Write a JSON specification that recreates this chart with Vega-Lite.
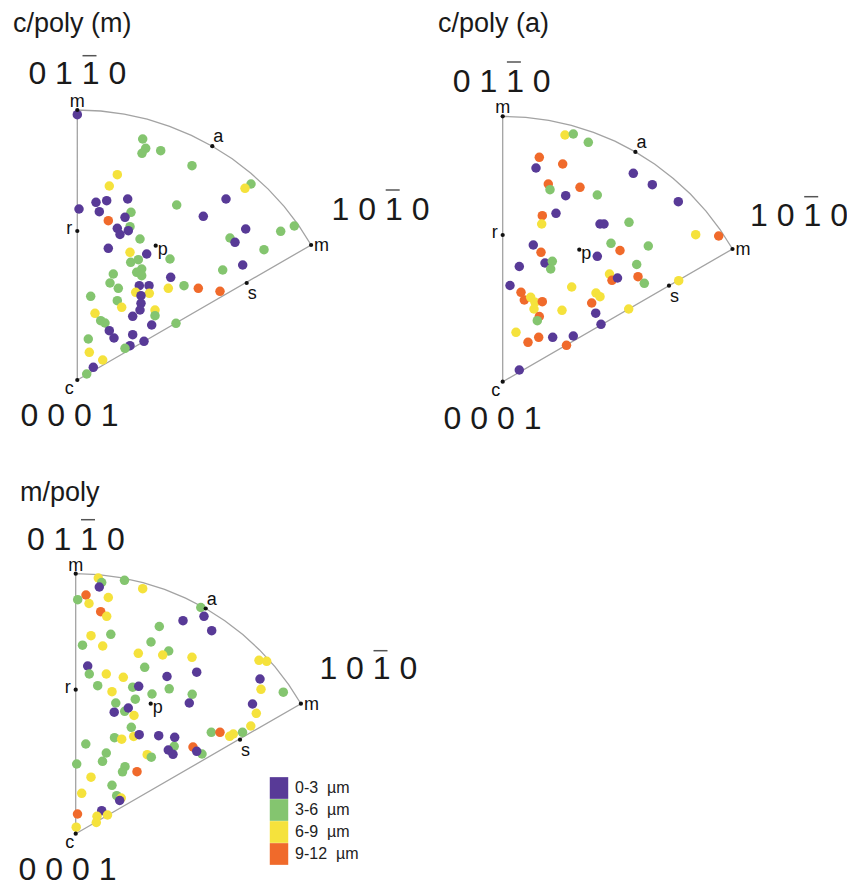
{
"$schema": "https://vega.github.io/schema/vega-lite/v6.json",
"padding": {"left": 0, "top": 10, "right": 0, "bottom": 0},
"spacing": 39.7,
"config": {"view": {"stroke": null}},
"datasets": {
"outline": [
{"panel":"p1","k":0,"u":0,"v":0},{"panel":"p1","k":1,"u":0,"v":270},{"panel":"p1","k":2,"u":23.5,"v":269.0},{"panel":"p1","k":3,"u":46.9,"v":265.9},{"panel":"p1","k":4,"u":69.9,"v":260.8},{"panel":"p1","k":5,"u":92.3,"v":253.7},{"panel":"p1","k":6,"u":114.1,"v":244.7},{"panel":"p1","k":7,"u":135,"v":233.8},{"panel":"p1","k":8,"u":154.9,"v":221.2},{"panel":"p1","k":9,"u":173.6,"v":206.8},{"panel":"p1","k":10,"u":190.9,"v":190.9},{"panel":"p1","k":11,"u":206.8,"v":173.6},{"panel":"p1","k":12,"u":221.2,"v":154.9},{"panel":"p1","k":13,"u":233.8,"v":135},{"panel":"p1","k":14,"u":0,"v":0},
{"panel":"p2","k":0,"u":0,"v":0},{"panel":"p2","k":1,"u":0,"v":265.4},{"panel":"p2","k":2,"u":23.1,"v":264.4},{"panel":"p2","k":3,"u":46.1,"v":261.4},{"panel":"p2","k":4,"u":68.7,"v":256.4},{"panel":"p2","k":5,"u":90.8,"v":249.4},{"panel":"p2","k":6,"u":112.2,"v":240.5},{"panel":"p2","k":7,"u":132.7,"v":229.8},{"panel":"p2","k":8,"u":152.2,"v":217.4},{"panel":"p2","k":9,"u":170.6,"v":203.3},{"panel":"p2","k":10,"u":187.7,"v":187.7},{"panel":"p2","k":11,"u":203.3,"v":170.6},{"panel":"p2","k":12,"u":217.4,"v":152.2},{"panel":"p2","k":13,"u":229.8,"v":132.7},{"panel":"p2","k":14,"u":0,"v":0},
{"panel":"p3","k":0,"u":0,"v":0},{"panel":"p3","k":1,"u":0,"v":260},{"panel":"p3","k":2,"u":22.7,"v":259.0},{"panel":"p3","k":3,"u":45.1,"v":256.0},{"panel":"p3","k":4,"u":67.3,"v":251.1},{"panel":"p3","k":5,"u":88.9,"v":244.3},{"panel":"p3","k":6,"u":109.9,"v":235.6},{"panel":"p3","k":7,"u":130,"v":225.2},{"panel":"p3","k":8,"u":149.1,"v":213.0},{"panel":"p3","k":9,"u":167.1,"v":199.2},{"panel":"p3","k":10,"u":183.8,"v":183.8},{"panel":"p3","k":11,"u":199.2,"v":167.1},{"panel":"p3","k":12,"u":213.0,"v":149.1},{"panel":"p3","k":13,"u":225.2,"v":130},{"panel":"p3","k":14,"u":0,"v":0}
],
"landmarks": [
{"panel":"p1","name":"mt","label":"m","u":0,"v":270},{"panel":"p1","name":"a","label":"a","u":135,"v":233.8},{"panel":"p1","name":"mr","label":"m","u":233.8,"v":135},{"panel":"p1","name":"r","label":"r","u":0,"v":149},{"panel":"p1","name":"p","label":"p","u":78.4,"v":134.3},{"panel":"p1","name":"s","label":"s","u":169.4,"v":97},{"panel":"p1","name":"c","label":"c","u":0,"v":0},
{"panel":"p2","name":"mt","label":"m","u":0,"v":265.4},{"panel":"p2","name":"a","label":"a","u":132.7,"v":229.8},{"panel":"p2","name":"mr","label":"m","u":229.8,"v":132.7},{"panel":"p2","name":"r","label":"r","u":0,"v":146.7},{"panel":"p2","name":"p","label":"p","u":76.6,"v":132},{"panel":"p2","name":"s","label":"s","u":166.3,"v":96},{"panel":"p2","name":"c","label":"c","u":0,"v":0},
{"panel":"p3","name":"mt","label":"m","u":0,"v":260},{"panel":"p3","name":"a","label":"a","u":130,"v":225.2},{"panel":"p3","name":"mr","label":"m","u":225.2,"v":130},{"panel":"p3","name":"r","label":"r","u":0,"v":144},{"panel":"p3","name":"p","label":"p","u":75,"v":130},{"panel":"p3","name":"s","label":"s","u":164.3,"v":94},{"panel":"p3","name":"c","label":"c","u":0,"v":0}
],
"hkl": [
{"panel":"p1","text":"0 1 1 0","u":0,"v":296},{"panel":"p1","text":"1 0 1 0","u":303.2,"v":160},{"panel":"p1","text":"0 0 0 1","u":-7.8,"v":-46},
{"panel":"p2","text":"0 1 1 0","u":-1,"v":289.4},{"panel":"p2","text":"1 0 1 0","u":296.3,"v":156},{"panel":"p2","text":"0 0 0 1","u":-10.2,"v":-47.3},
{"panel":"p3","text":"0 1 1 0","u":0.1,"v":284},{"panel":"p3","text":"1 0 1 0","u":292.6,"v":154.7},{"panel":"p3","text":"0 0 0 1","u":-8.2,"v":-46.3}
],
"bars": [
{"panel":"p1","u":5.2,"u2":19.2,"v":324.3},{"panel":"p1","u":308.4,"u2":322.4,"v":190},
{"panel":"p2","u":4.2,"u2":18.2,"v":319.7},{"panel":"p2","u":301.5,"u2":315.5,"v":185},
{"panel":"p3","u":5.3,"u2":19.3,"v":314},{"panel":"p3","u":297.8,"u2":311.8,"v":183}
],
"points": [
{"panel":"p1","u":0,"v":265.3,"grain":"0-3"},{"panel":"p1","u":65.4,"v":241,"grain":"3-6"},{"panel":"p1","u":68.4,"v":231.7,"grain":"3-6"},{"panel":"p1","u":64.7,"v":226.7,"grain":"3-6"},{"panel":"p1","u":83.4,"v":229.3,"grain":"3-6"},{"panel":"p1","u":114.7,"v":214.3,"grain":"3-6"},{"panel":"p1","u":40,"v":205.3,"grain":"6-9"},{"panel":"p1","u":32,"v":194,"grain":"6-9"},{"panel":"p1","u":173.7,"v":196,"grain":"3-6"},{"panel":"p1","u":167.7,"v":191.7,"grain":"6-9"},
{"panel":"p1","u":1.7,"v":171,"grain":"0-3"},{"panel":"p1","u":18.7,"v":177.7,"grain":"0-3"},{"panel":"p1","u":29.4,"v":179.3,"grain":"0-3"},{"panel":"p1","u":50.4,"v":181,"grain":"0-3"},{"panel":"p1","u":22,"v":168.3,"grain":"0-3"},{"panel":"p1","u":53.7,"v":167.7,"grain":"3-6"},{"panel":"p1","u":47.7,"v":162.7,"grain":"0-3"},{"panel":"p1","u":31,"v":159.3,"grain":"9-12"},{"panel":"p1","u":99.4,"v":175,"grain":"3-6"},{"panel":"p1","u":148.7,"v":181,"grain":"0-3"},
{"panel":"p1","u":126,"v":163.7,"grain":"0-3"},{"panel":"p1","u":168.4,"v":151,"grain":"0-3"},{"panel":"p1","u":203.4,"v":148.7,"grain":"3-6"},{"panel":"p1","u":217,"v":154,"grain":"3-6"},{"panel":"p1","u":40,"v":151.7,"grain":"0-3"},{"panel":"p1","u":52.7,"v":153.3,"grain":"3-6"},{"panel":"p1","u":51,"v":149.3,"grain":"0-3"},{"panel":"p1","u":42.7,"v":145.5,"grain":"0-3"},{"panel":"p1","u":62.7,"v":141,"grain":"3-6"},{"panel":"p1","u":152.7,"v":142,"grain":"3-6"},
{"panel":"p1","u":157.7,"v":137.7,"grain":"0-3"},{"panel":"p1","u":186.7,"v":130.3,"grain":"3-6"},{"panel":"p1","u":165.4,"v":115,"grain":"0-3"},{"panel":"p1","u":145.4,"v":110,"grain":"3-6"},{"panel":"p1","u":31,"v":131.7,"grain":"0-3"},{"panel":"p1","u":52.7,"v":127.7,"grain":"6-9"},{"panel":"p1","u":69.4,"v":126,"grain":"0-3"},{"panel":"p1","u":92.7,"v":121,"grain":"3-6"},{"panel":"p1","u":61,"v":120.3,"grain":"3-6"},{"panel":"p1","u":53.4,"v":117.7,"grain":"3-6"},
{"panel":"p1","u":64.4,"v":111,"grain":"3-6"},{"panel":"p1","u":59.4,"v":107.7,"grain":"3-6"},{"panel":"p1","u":64.4,"v":104.3,"grain":"3-6"},{"panel":"p1","u":36,"v":106,"grain":"3-6"},{"panel":"p1","u":32.7,"v":97,"grain":"3-6"},{"panel":"p1","u":41,"v":91.7,"grain":"3-6"},{"panel":"p1","u":93.4,"v":102.7,"grain":"0-3"},{"panel":"p1","u":62,"v":94.3,"grain":"0-3"},{"panel":"p1","u":71.7,"v":94.3,"grain":"0-3"},{"panel":"p1","u":91,"v":91.7,"grain":"6-9"},
{"panel":"p1","u":106.7,"v":94.3,"grain":"3-6"},{"panel":"p1","u":121,"v":91.7,"grain":"9-12"},{"panel":"p1","u":142.7,"v":88.7,"grain":"9-12"},{"panel":"p1","u":58.4,"v":87.7,"grain":"6-9"},{"panel":"p1","u":72,"v":86.7,"grain":"6-9"},{"panel":"p1","u":63.7,"v":84.3,"grain":"0-3"},{"panel":"p1","u":63.7,"v":76.7,"grain":"0-3"},{"panel":"p1","u":62.7,"v":70,"grain":"0-3"},{"panel":"p1","u":13.4,"v":83.7,"grain":"3-6"},{"panel":"p1","u":40,"v":79.3,"grain":"3-6"},
{"panel":"p1","u":44.4,"v":72.7,"grain":"6-9"},{"panel":"p1","u":77.7,"v":70,"grain":"6-9"},{"panel":"p1","u":77.7,"v":64.3,"grain":"3-6"},{"panel":"p1","u":55.4,"v":63.7,"grain":"0-3"},{"panel":"p1","u":17.7,"v":66.7,"grain":"6-9"},{"panel":"p1","u":23.4,"v":59.3,"grain":"3-6"},{"panel":"p1","u":27.7,"v":57,"grain":"3-6"},{"panel":"p1","u":74.4,"v":55,"grain":"0-3"},{"panel":"p1","u":98.7,"v":56.7,"grain":"3-6"},{"panel":"p1","u":32,"v":49.3,"grain":"0-3"},
{"panel":"p1","u":36.7,"v":42,"grain":"0-3"},{"panel":"p1","u":55.4,"v":45.3,"grain":"0-3"},{"panel":"p1","u":11,"v":41,"grain":"3-6"},{"panel":"p1","u":66.7,"v":38.7,"grain":"0-3"},{"panel":"p1","u":52.7,"v":34.3,"grain":"0-3"},{"panel":"p1","u":47.7,"v":31.7,"grain":"3-6"},{"panel":"p1","u":12,"v":27.7,"grain":"6-9"},{"panel":"p1","u":25.4,"v":20,"grain":"6-9"},{"panel":"p1","u":16,"v":12.7,"grain":"0-3"},{"panel":"p1","u":9.4,"v":6,"grain":"3-6"},
{"panel":"p2","u":62.3,"v":246.7,"grain":"6-9"},{"panel":"p2","u":70.6,"v":247.7,"grain":"3-6"},{"panel":"p2","u":85.6,"v":239.4,"grain":"3-6"},{"panel":"p2","u":36.6,"v":224.4,"grain":"9-12"},{"panel":"p2","u":33.3,"v":213.7,"grain":"0-3"},{"panel":"p2","u":60,"v":217.7,"grain":"9-12"},{"panel":"p2","u":130.6,"v":208.4,"grain":"0-3"},{"panel":"p2","u":149.6,"v":197,"grain":"0-3"},{"panel":"p2","u":45.6,"v":197.7,"grain":"9-12"},{"panel":"p2","u":47.3,"v":192,"grain":"3-6"},
{"panel":"p2","u":77.3,"v":194.4,"grain":"9-12"},{"panel":"p2","u":63,"v":186,"grain":"0-3"},{"panel":"p2","u":94.6,"v":186.7,"grain":"3-6"},{"panel":"p2","u":175.6,"v":180,"grain":"0-3"},{"panel":"p2","u":53.3,"v":168.4,"grain":"0-3"},{"panel":"p2","u":39.6,"v":166,"grain":"9-12"},{"panel":"p2","u":39,"v":157.7,"grain":"6-9"},{"panel":"p2","u":97.3,"v":157.7,"grain":"0-3"},{"panel":"p2","u":101.3,"v":157.7,"grain":"0-3"},{"panel":"p2","u":126.3,"v":159.4,"grain":"3-6"},
{"panel":"p2","u":193,"v":147,"grain":"6-9"},{"panel":"p2","u":216,"v":145.7,"grain":"9-12"},{"panel":"p2","u":30.6,"v":136.7,"grain":"0-3"},{"panel":"p2","u":108.3,"v":138.4,"grain":"3-6"},{"panel":"p2","u":145.6,"v":135.7,"grain":"3-6"},{"panel":"p2","u":117.3,"v":131.2,"grain":"9-12"},{"panel":"p2","u":38.3,"v":129.4,"grain":"9-12"},{"panel":"p2","u":94.6,"v":125.4,"grain":"0-3"},{"panel":"p2","u":16.6,"v":115.2,"grain":"0-3"},{"panel":"p2","u":42.3,"v":118.7,"grain":"0-3"},
{"panel":"p2","u":49.6,"v":120.4,"grain":"3-6"},{"panel":"p2","u":48,"v":112.7,"grain":"3-6"},{"panel":"p2","u":134,"v":117.2,"grain":"3-6"},{"panel":"p2","u":106.8,"v":107.7,"grain":"6-9"},{"panel":"p2","u":109.3,"v":101.4,"grain":"9-12"},{"panel":"p2","u":114.8,"v":103.7,"grain":"0-3"},{"panel":"p2","u":135.3,"v":105,"grain":"9-12"},{"panel":"p2","u":141.6,"v":98.4,"grain":"3-6"},{"panel":"p2","u":7.3,"v":96.2,"grain":"0-3"},{"panel":"p2","u":69,"v":94.7,"grain":"6-9"},
{"panel":"p2","u":18.3,"v":89.4,"grain":"9-12"},{"panel":"p2","u":21.6,"v":81.7,"grain":"9-12"},{"panel":"p2","u":28,"v":84.4,"grain":"6-9"},{"panel":"p2","u":32.3,"v":79.4,"grain":"6-9"},{"panel":"p2","u":39.6,"v":80,"grain":"9-12"},{"panel":"p2","u":31.3,"v":72.7,"grain":"6-9"},{"panel":"p2","u":93.3,"v":88.7,"grain":"6-9"},{"panel":"p2","u":97.3,"v":85,"grain":"6-9"},{"panel":"p2","u":89,"v":78.7,"grain":"9-12"},{"panel":"p2","u":59.3,"v":71.4,"grain":"6-9"},
{"panel":"p2","u":126,"v":72.7,"grain":"6-9"},{"panel":"p2","u":176,"v":101,"grain":"6-9"},{"panel":"p2","u":36.6,"v":65.2,"grain":"9-12"},{"panel":"p2","u":34.6,"v":61,"grain":"3-6"},{"panel":"p2","u":93,"v":68.5,"grain":"0-3"},{"panel":"p2","u":98.3,"v":57.4,"grain":"0-3"},{"panel":"p2","u":13.3,"v":49.4,"grain":"6-9"},{"panel":"p2","u":25.3,"v":39.4,"grain":"9-12"},{"panel":"p2","u":36,"v":44.4,"grain":"9-12"},{"panel":"p2","u":50,"v":44.4,"grain":"0-3"},
{"panel":"p2","u":70.6,"v":45.7,"grain":"0-3"},{"panel":"p2","u":63.8,"v":36.4,"grain":"9-12"},{"panel":"p2","u":16.6,"v":11.7,"grain":"0-3"},
{"panel":"p3","u":22.6,"v":255.7,"grain":"6-9"},{"panel":"p3","u":26,"v":251.2,"grain":"3-6"},{"panel":"p3","u":23.6,"v":246.7,"grain":"0-3"},{"panel":"p3","u":48.8,"v":253.4,"grain":"3-6"},{"panel":"p3","u":67,"v":245,"grain":"6-9"},{"panel":"p3","u":10.3,"v":238.7,"grain":"9-12"},{"panel":"p3","u":2,"v":234,"grain":"3-6"},{"panel":"p3","u":13.3,"v":230.2,"grain":"6-9"},{"panel":"p3","u":32.6,"v":236.2,"grain":"6-9"},{"panel":"p3","u":25,"v":222,"grain":"9-12"},
{"panel":"p3","u":31,"v":217.4,"grain":"6-9"},{"panel":"p3","u":125.1,"v":226.2,"grain":"3-6"},{"panel":"p3","u":128.3,"v":217.4,"grain":"0-3"},{"panel":"p3","u":107.3,"v":213,"grain":"0-3"},{"panel":"p3","u":136,"v":203,"grain":"0-3"},{"panel":"p3","u":83.6,"v":207.2,"grain":"3-6"},{"panel":"p3","u":15.3,"v":198,"grain":"6-9"},{"panel":"p3","u":35.1,"v":199.4,"grain":"3-6"},{"panel":"p3","u":6.8,"v":188.5,"grain":"3-6"},{"panel":"p3","u":27,"v":187.7,"grain":"6-9"},
{"panel":"p3","u":75.3,"v":191.7,"grain":"3-6"},{"panel":"p3","u":93,"v":182.7,"grain":"3-6"},{"panel":"p3","u":62.6,"v":180.4,"grain":"6-9"},{"panel":"p3","u":87,"v":178.7,"grain":"6-9"},{"panel":"p3","u":116.3,"v":176.4,"grain":"6-9"},{"panel":"p3","u":183.3,"v":173.4,"grain":"6-9"},{"panel":"p3","u":191,"v":172.4,"grain":"6-9"},{"panel":"p3","u":12,"v":167.7,"grain":"0-3"},{"panel":"p3","u":69,"v":166.4,"grain":"3-6"},{"panel":"p3","u":13.6,"v":159.7,"grain":"3-6"},
{"panel":"p3","u":30.6,"v":159.7,"grain":"6-9"},{"panel":"p3","u":47.6,"v":156.4,"grain":"6-9"},{"panel":"p3","u":91.3,"v":157.2,"grain":"0-3"},{"panel":"p3","u":121,"v":161.5,"grain":"0-3"},{"panel":"p3","u":184.3,"v":154.7,"grain":"0-3"},{"panel":"p3","u":22,"v":148,"grain":"3-6"},{"panel":"p3","u":57,"v":146.5,"grain":"3-6"},{"panel":"p3","u":63,"v":147.4,"grain":"0-3"},{"panel":"p3","u":76.3,"v":139.7,"grain":"3-6"},{"panel":"p3","u":93.5,"v":144.9,"grain":"3-6"},
{"panel":"p3","u":36.3,"v":142,"grain":"6-9"},{"panel":"p3","u":116.5,"v":139.4,"grain":"3-6"},{"panel":"p3","u":185.3,"v":144.4,"grain":"6-9"},{"panel":"p3","u":207.6,"v":141.5,"grain":"3-6"},{"panel":"p3","u":40.1,"v":130.7,"grain":"3-6"},{"panel":"p3","u":49,"v":122.4,"grain":"3-6"},{"panel":"p3","u":38.5,"v":121.5,"grain":"0-3"},{"panel":"p3","u":52.6,"v":125.7,"grain":"0-3"},{"panel":"p3","u":58.3,"v":118.2,"grain":"6-9"},{"panel":"p3","u":59.6,"v":134.5,"grain":"3-6"},
{"panel":"p3","u":113.6,"v":130.7,"grain":"0-3"},{"panel":"p3","u":176.8,"v":129.7,"grain":"0-3"},{"panel":"p3","u":180.6,"v":120.4,"grain":"6-9"},{"panel":"p3","u":175.1,"v":107.7,"grain":"6-9"},{"panel":"p3","u":55.6,"v":106.4,"grain":"3-6"},{"panel":"p3","u":58,"v":97.2,"grain":"6-9"},{"panel":"p3","u":63.5,"v":99,"grain":"0-3"},{"panel":"p3","u":38.8,"v":96,"grain":"3-6"},{"panel":"p3","u":46,"v":94.5,"grain":"6-9"},{"panel":"p3","u":83,"v":98,"grain":"0-3"},
{"panel":"p3","u":98.5,"v":87.4,"grain":"3-6"},{"panel":"p3","u":99,"v":96.4,"grain":"0-3"},{"panel":"p3","u":10.1,"v":89.7,"grain":"3-6"},{"panel":"p3","u":135.6,"v":101.4,"grain":"3-6"},{"panel":"p3","u":144.3,"v":101.4,"grain":"9-12"},{"panel":"p3","u":154,"v":97.4,"grain":"6-9"},{"panel":"p3","u":157.6,"v":99.7,"grain":"6-9"},{"panel":"p3","u":166.8,"v":101.4,"grain":"3-6"},{"panel":"p3","u":117.3,"v":86.7,"grain":"9-12"},{"panel":"p3","u":126.3,"v":79.7,"grain":"3-6"},
{"panel":"p3","u":92.6,"v":83.7,"grain":"0-3"},{"panel":"p3","u":97.3,"v":79.4,"grain":"0-3"},{"panel":"p3","u":121,"v":82.4,"grain":"0-3"},{"panel":"p3","u":30.6,"v":80.7,"grain":"3-6"},{"panel":"p3","u":71.5,"v":79,"grain":"6-9"},{"panel":"p3","u":75.6,"v":76.5,"grain":"3-6"},{"panel":"p3","u":26.8,"v":72.4,"grain":"3-6"},{"panel":"p3","u":1,"v":69.7,"grain":"3-6"},{"panel":"p3","u":49.3,"v":67,"grain":"3-6"},{"panel":"p3","u":46.8,"v":61.9,"grain":"3-6"},
{"panel":"p3","u":61.3,"v":62,"grain":"9-12"},{"panel":"p3","u":15.3,"v":56.5,"grain":"6-9"},{"panel":"p3","u":36.3,"v":48.4,"grain":"3-6"},{"panel":"p3","u":6,"v":40.4,"grain":"6-9"},{"panel":"p3","u":41,"v":38,"grain":"3-6"},{"panel":"p3","u":45.5,"v":35.7,"grain":"6-9"},{"panel":"p3","u":44,"v":33.2,"grain":"0-3"},{"panel":"p3","u":26,"v":23,"grain":"0-3"},{"panel":"p3","u":21.3,"v":17.4,"grain":"6-9"},{"panel":"p3","u":20.6,"v":11.2,"grain":"6-9"},
{"panel":"p3","u":31.8,"v":18.7,"grain":"6-9"},{"panel":"p3","u":1.8,"v":19.7,"grain":"9-12"},{"panel":"p3","u":0.5,"v":6.5,"grain":"6-9"}
]
},
"vconcat": [
{"hconcat": [
{"width": 438, "height": 395,
"title": {"text": "c/poly (m)", "anchor": "start", "frame": "group", "dx": 13, "offset": -15, "baseline": "alphabetic", "fontSize": 27, "font": "Liberation Sans", "fontWeight": "normal", "color": "#1a1a1a"},
"encoding": {"x": {"field": "u", "type": "quantitative", "scale": {"domain": [-77.3, 360.7], "nice": false, "zero": false}, "axis": null},
"y": {"field": "v", "type": "quantitative", "scale": {"domain": [-59, 336], "nice": false, "zero": false}, "axis": null}},
"layer": [
{"data": {"name": "outline"}, "transform": [{"filter": "datum.panel === 'p1'"}], "mark": {"type": "line", "color": "#a3a3a3", "strokeWidth": 1.3}, "encoding": {"order": {"field": "k", "type": "quantitative"}}},
{"data": {"name": "points"}, "transform": [{"filter": "datum.panel === 'p1'"}], "mark": {"type": "circle", "size": 90, "opacity": 1}, "encoding": {"color": {"field": "grain", "type": "nominal", "scale": {"domain": ["0-3", "3-6", "6-9", "9-12"], "range": ["#583a97", "#84c56f", "#f5e23c", "#f06a2b"]}, "legend": {"title": null, "orient": "none", "legendX": 268, "legendY": 733, "symbolType": "M-0.85,-1H0.85V1H-0.85Z", "symbolSize": 471, "symbolStrokeWidth": 0, "symbolOpacity": 1, "rowPadding": 0, "labelFontSize": 16, "labelFont": "Liberation Sans", "labelColor": "#222222", "labelOffset": 5, "padding": 0, "labelExpr": "datum.label + '\u00a0\u00a0µm'"}}}},
{"data": {"name": "landmarks"}, "transform": [{"filter": "datum.panel === 'p1'"}], "mark": {"type": "circle", "size": 18, "color": "#111111", "opacity": 1}},
{"data": {"name": "landmarks"}, "transform": [{"filter": "datum.panel === 'p1' && datum.name === 'mt'"}], "mark": {"type": "text", "fontSize": 18, "font": "Liberation Sans", "align": "center", "baseline": "alphabetic", "dy": -3, "color": "#111111"}, "encoding": {"text": {"field": "label"}}},
{"data": {"name": "landmarks"}, "transform": [{"filter": "datum.panel === 'p1' && datum.name === 'a'"}], "mark": {"type": "text", "fontSize": 18, "font": "Liberation Sans", "align": "left", "baseline": "alphabetic", "dx": 1, "dy": -4, "color": "#111111"}, "encoding": {"text": {"field": "label"}}},
{"data": {"name": "landmarks"}, "transform": [{"filter": "datum.panel === 'p1' && datum.name === 'mr'"}], "mark": {"type": "text", "fontSize": 18, "font": "Liberation Sans", "align": "left", "baseline": "middle", "dx": 3, "dy": 1, "color": "#111111"}, "encoding": {"text": {"field": "label"}}},
{"data": {"name": "landmarks"}, "transform": [{"filter": "datum.panel === 'p1' && datum.name === 'r'"}], "mark": {"type": "text", "fontSize": 18, "font": "Liberation Sans", "align": "right", "baseline": "middle", "dx": -5, "dy": -2, "color": "#111111"}, "encoding": {"text": {"field": "label"}}},
{"data": {"name": "landmarks"}, "transform": [{"filter": "datum.panel === 'p1' && datum.name === 'p'"}], "mark": {"type": "text", "fontSize": 18, "font": "Liberation Sans", "align": "left", "baseline": "alphabetic", "dx": 2, "dy": 9, "color": "#111111"}, "encoding": {"text": {"field": "label"}}},
{"data": {"name": "landmarks"}, "transform": [{"filter": "datum.panel === 'p1' && datum.name === 's'"}], "mark": {"type": "text", "fontSize": 18, "font": "Liberation Sans", "align": "left", "baseline": "alphabetic", "dx": 1, "dy": 16, "color": "#111111"}, "encoding": {"text": {"field": "label"}}},
{"data": {"name": "landmarks"}, "transform": [{"filter": "datum.panel === 'p1' && datum.name === 'c'"}], "mark": {"type": "text", "fontSize": 18, "font": "Liberation Sans", "align": "center", "baseline": "alphabetic", "dx": -8, "dy": 14, "color": "#111111"}, "encoding": {"text": {"field": "label"}}},
{"data": {"name": "hkl"}, "transform": [{"filter": "datum.panel === 'p1'"}], "mark": {"type": "text", "fontSize": 32, "font": "Liberation Sans", "align": "center", "baseline": "alphabetic", "color": "#1a1a1a"}, "encoding": {"text": {"field": "text"}}},
{"data": {"name": "bars"}, "transform": [{"filter": "datum.panel === 'p1'"}], "mark": {"type": "rule", "color": "#555555", "strokeWidth": 1.5}, "encoding": {"x2": {"field": "u2"}}}
]},
{"width": 409, "height": 395,
"title": {"text": "c/poly (a)", "anchor": "start", "frame": "group", "dx": 0, "offset": -15, "baseline": "alphabetic", "fontSize": 27, "font": "Liberation Sans", "fontWeight": "normal", "color": "#1a1a1a"},
"encoding": {"x": {"field": "u", "type": "quantitative", "scale": {"domain": [-64.7, 344.3], "nice": false, "zero": false}, "axis": null},
"y": {"field": "v", "type": "quantitative", "scale": {"domain": [-57.3, 337.7], "nice": false, "zero": false}, "axis": null}},
"layer": [
{"data": {"name": "outline"}, "transform": [{"filter": "datum.panel === 'p2'"}], "mark": {"type": "line", "color": "#a3a3a3", "strokeWidth": 1.3}, "encoding": {"order": {"field": "k", "type": "quantitative"}}},
{"data": {"name": "points"}, "transform": [{"filter": "datum.panel === 'p2'"}], "mark": {"type": "circle", "size": 90, "opacity": 1}, "encoding": {"color": {"field": "grain", "type": "nominal", "scale": {"domain": ["0-3", "3-6", "6-9", "9-12"], "range": ["#583a97", "#84c56f", "#f5e23c", "#f06a2b"]}, "legend": {"title": null, "orient": "none", "legendX": 268, "legendY": 733, "symbolType": "M-0.85,-1H0.85V1H-0.85Z", "symbolSize": 471, "symbolStrokeWidth": 0, "symbolOpacity": 1, "rowPadding": 0, "labelFontSize": 16, "labelFont": "Liberation Sans", "labelColor": "#222222", "labelOffset": 5, "padding": 0, "labelExpr": "datum.label + '\u00a0\u00a0µm'"}}}},
{"data": {"name": "landmarks"}, "transform": [{"filter": "datum.panel === 'p2'"}], "mark": {"type": "circle", "size": 18, "color": "#111111", "opacity": 1}},
{"data": {"name": "landmarks"}, "transform": [{"filter": "datum.panel === 'p2' && datum.name === 'mt'"}], "mark": {"type": "text", "fontSize": 18, "font": "Liberation Sans", "align": "center", "baseline": "alphabetic", "dy": -3, "color": "#111111"}, "encoding": {"text": {"field": "label"}}},
{"data": {"name": "landmarks"}, "transform": [{"filter": "datum.panel === 'p2' && datum.name === 'a'"}], "mark": {"type": "text", "fontSize": 18, "font": "Liberation Sans", "align": "left", "baseline": "alphabetic", "dx": 1, "dy": -4, "color": "#111111"}, "encoding": {"text": {"field": "label"}}},
{"data": {"name": "landmarks"}, "transform": [{"filter": "datum.panel === 'p2' && datum.name === 'mr'"}], "mark": {"type": "text", "fontSize": 18, "font": "Liberation Sans", "align": "left", "baseline": "middle", "dx": 3, "dy": 1, "color": "#111111"}, "encoding": {"text": {"field": "label"}}},
{"data": {"name": "landmarks"}, "transform": [{"filter": "datum.panel === 'p2' && datum.name === 'r'"}], "mark": {"type": "text", "fontSize": 18, "font": "Liberation Sans", "align": "right", "baseline": "middle", "dx": -5, "dy": -2, "color": "#111111"}, "encoding": {"text": {"field": "label"}}},
{"data": {"name": "landmarks"}, "transform": [{"filter": "datum.panel === 'p2' && datum.name === 'p'"}], "mark": {"type": "text", "fontSize": 18, "font": "Liberation Sans", "align": "left", "baseline": "alphabetic", "dx": 2, "dy": 9, "color": "#111111"}, "encoding": {"text": {"field": "label"}}},
{"data": {"name": "landmarks"}, "transform": [{"filter": "datum.panel === 'p2' && datum.name === 's'"}], "mark": {"type": "text", "fontSize": 18, "font": "Liberation Sans", "align": "left", "baseline": "alphabetic", "dx": 1, "dy": 16, "color": "#111111"}, "encoding": {"text": {"field": "label"}}},
{"data": {"name": "landmarks"}, "transform": [{"filter": "datum.panel === 'p2' && datum.name === 'c'"}], "mark": {"type": "text", "fontSize": 18, "font": "Liberation Sans", "align": "center", "baseline": "alphabetic", "dx": -7, "dy": 14, "color": "#111111"}, "encoding": {"text": {"field": "label"}}},
{"data": {"name": "hkl"}, "transform": [{"filter": "datum.panel === 'p2'"}], "mark": {"type": "text", "fontSize": 32, "font": "Liberation Sans", "align": "center", "baseline": "alphabetic", "color": "#1a1a1a"}, "encoding": {"text": {"field": "text"}}},
{"data": {"name": "bars"}, "transform": [{"filter": "datum.panel === 'p2'"}], "mark": {"type": "rule", "color": "#555555", "strokeWidth": 1.5}, "encoding": {"x2": {"field": "u2"}}}
]}
], "spacing": 0},
{"width": 438, "height": 369.3,
"title": {"text": "m/poly", "anchor": "start", "frame": "group", "dx": 20, "offset": -15, "baseline": "alphabetic", "fontSize": 27, "font": "Liberation Sans", "fontWeight": "normal", "color": "#1a1a1a"},
"encoding": {"x": {"field": "u", "type": "quantitative", "scale": {"domain": [-75.7, 362.3], "nice": false, "zero": false}, "axis": null},
"y": {"field": "v", "type": "quantitative", "scale": {"domain": [-48.3, 321], "nice": false, "zero": false}, "axis": null}},
"layer": [
{"data": {"name": "outline"}, "transform": [{"filter": "datum.panel === 'p3'"}], "mark": {"type": "line", "color": "#a3a3a3", "strokeWidth": 1.3}, "encoding": {"order": {"field": "k", "type": "quantitative"}}},
{"data": {"name": "points"}, "transform": [{"filter": "datum.panel === 'p3'"}], "mark": {"type": "circle", "size": 90, "opacity": 1}, "encoding": {"color": {"field": "grain", "type": "nominal", "scale": {"domain": ["0-3", "3-6", "6-9", "9-12"], "range": ["#583a97", "#84c56f", "#f5e23c", "#f06a2b"]}, "legend": {"title": null, "orient": "none", "legendX": 268, "legendY": 733, "symbolType": "M-0.85,-1H0.85V1H-0.85Z", "symbolSize": 471, "symbolStrokeWidth": 0, "symbolOpacity": 1, "rowPadding": 0, "labelFontSize": 16, "labelFont": "Liberation Sans", "labelColor": "#222222", "labelOffset": 5, "padding": 0, "labelExpr": "datum.label + '\u00a0\u00a0µm'"}}}},
{"data": {"name": "landmarks"}, "transform": [{"filter": "datum.panel === 'p3'"}], "mark": {"type": "circle", "size": 18, "color": "#111111", "opacity": 1}},
{"data": {"name": "landmarks"}, "transform": [{"filter": "datum.panel === 'p3' && datum.name === 'mt'"}], "mark": {"type": "text", "fontSize": 18, "font": "Liberation Sans", "align": "center", "baseline": "alphabetic", "dy": -3, "color": "#111111"}, "encoding": {"text": {"field": "label"}}},
{"data": {"name": "landmarks"}, "transform": [{"filter": "datum.panel === 'p3' && datum.name === 'a'"}], "mark": {"type": "text", "fontSize": 18, "font": "Liberation Sans", "align": "left", "baseline": "alphabetic", "dx": 1, "dy": -4, "color": "#111111"}, "encoding": {"text": {"field": "label"}}},
{"data": {"name": "landmarks"}, "transform": [{"filter": "datum.panel === 'p3' && datum.name === 'mr'"}], "mark": {"type": "text", "fontSize": 18, "font": "Liberation Sans", "align": "left", "baseline": "middle", "dx": 3, "dy": 1, "color": "#111111"}, "encoding": {"text": {"field": "label"}}},
{"data": {"name": "landmarks"}, "transform": [{"filter": "datum.panel === 'p3' && datum.name === 'r'"}], "mark": {"type": "text", "fontSize": 18, "font": "Liberation Sans", "align": "right", "baseline": "middle", "dx": -5, "dy": -2, "color": "#111111"}, "encoding": {"text": {"field": "label"}}},
{"data": {"name": "landmarks"}, "transform": [{"filter": "datum.panel === 'p3' && datum.name === 'p'"}], "mark": {"type": "text", "fontSize": 18, "font": "Liberation Sans", "align": "left", "baseline": "alphabetic", "dx": 2, "dy": 9, "color": "#111111"}, "encoding": {"text": {"field": "label"}}},
{"data": {"name": "landmarks"}, "transform": [{"filter": "datum.panel === 'p3' && datum.name === 's'"}], "mark": {"type": "text", "fontSize": 18, "font": "Liberation Sans", "align": "left", "baseline": "alphabetic", "dx": 1, "dy": 16, "color": "#111111"}, "encoding": {"text": {"field": "label"}}},
{"data": {"name": "landmarks"}, "transform": [{"filter": "datum.panel === 'p3' && datum.name === 'c'"}], "mark": {"type": "text", "fontSize": 18, "font": "Liberation Sans", "align": "center", "baseline": "alphabetic", "dx": -6, "dy": 14, "color": "#111111"}, "encoding": {"text": {"field": "label"}}},
{"data": {"name": "hkl"}, "transform": [{"filter": "datum.panel === 'p3'"}], "mark": {"type": "text", "fontSize": 32, "font": "Liberation Sans", "align": "center", "baseline": "alphabetic", "color": "#1a1a1a"}, "encoding": {"text": {"field": "text"}}},
{"data": {"name": "bars"}, "transform": [{"filter": "datum.panel === 'p3'"}], "mark": {"type": "rule", "color": "#555555", "strokeWidth": 1.5}, "encoding": {"x2": {"field": "u2"}}}
]}
],
"resolve": {"scale": {"x": "independent", "y": "independent"}}
}
